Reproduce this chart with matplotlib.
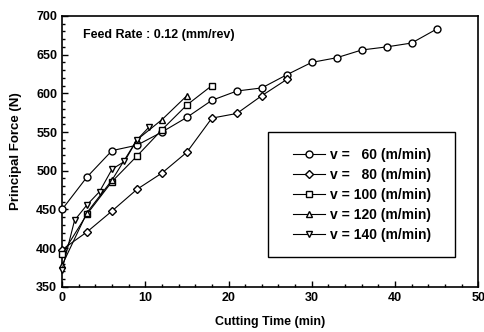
import matplotlib
matplotlib.use("Agg")
import matplotlib.pyplot as plt
from matplotlib.patches import Rectangle
from matplotlib.ticker import MultipleLocator

plt.rcParams['font.family'] = ['Liberation Sans', 'DejaVu Sans']
plt.rcParams['font.weight'] = 'bold'
plt.rcParams['axes.labelweight'] = 'bold'

# Cutting time (min) and principal force (N) for each cutting speed
t_60 = [0, 3, 6, 9, 12, 15, 18, 21, 24, 27, 30, 33, 36, 39, 42, 45]
f_60 = [450, 492, 526, 533, 550, 569, 591, 603, 607, 624, 640, 646, 656, 660, 665, 683]

t_80 = [0, 3, 6, 9, 12, 15, 18, 21, 24, 27]
f_80 = [398, 421, 448, 476, 497, 524, 568, 574, 597, 618]

t_100 = [0, 3, 6, 9, 12, 15, 18]
f_100 = [392, 444, 486, 519, 553, 585, 610]

t_120 = [0, 3, 6, 9, 12, 15]
f_120 = [378, 446, 488, 540, 566, 597]

t_140 = [0, 1.5, 3, 4.5, 6, 7.5, 9, 10.5]
f_140 = [372, 436, 456, 473, 502, 512, 540, 557]

labels = ['v =   60 (m/min)', 'v =   80 (m/min)', 'v = 100 (m/min)',
          'v = 120 (m/min)', 'v = 140 (m/min)']
markers = ['o', 'D', 's', '^', 'v']

fig = plt.figure(figsize=(4.85, 3.32), dpi=100)
ax = fig.add_axes([0.128, 0.136, 0.858, 0.816])

series = [(t_60, f_60), (t_80, f_80), (t_100, f_100), (t_120, f_120), (t_140, f_140)]
for (t, f), m, lab in zip(series, markers, labels):
    ms = 4.2 if m == 'D' else 5
    ax.plot(t, f, color='black', lw=0.8, marker=m, ms=ms, mfc='white',
            mec='black', mew=1.0, label=lab, clip_on=False, zorder=3)

ax.set_xlim(0, 50)
ax.set_ylim(350, 700)
ax.xaxis.set_major_locator(MultipleLocator(10))
ax.xaxis.set_minor_locator(MultipleLocator(2))
ax.yaxis.set_major_locator(MultipleLocator(50))
ax.yaxis.set_minor_locator(MultipleLocator(10))
ax.tick_params(which='both', direction='in', top=False, right=False,
               labelsize=9, width=1.0)
ax.tick_params(which='major', length=4)
ax.tick_params(which='minor', length=2)
for lbl in ax.get_xticklabels() + ax.get_yticklabels():
    lbl.set_fontweight('bold')
for s in ax.spines.values():
    s.set_linewidth(1.2)

ax.set_xlabel('Cutting Time (min)', fontsize=9, labelpad=9)
ax.set_ylabel('Principal Force (N)', fontsize=9.5, labelpad=10)

ax.text(0.05, 0.93, 'Feed Rate : 0.12 (mm/rev)', transform=ax.transAxes,
        fontsize=9, va='center', ha='left')

# legend box drawn separately so the padding matches the original
ax.add_patch(Rectangle((0.495, 0.11), 0.45, 0.46, transform=ax.transAxes,
                       facecolor='white', edgecolor='black', lw=1.0, zorder=4))
leg = ax.legend(loc='center', bbox_to_anchor=(0.72, 0.34), fontsize=10,
                frameon=False, handlelength=2.3, handletextpad=0.36,
                labelspacing=0.44, borderpad=0, borderaxespad=0)
leg.set_zorder(5)

fig.savefig('out.png', dpi=100)
